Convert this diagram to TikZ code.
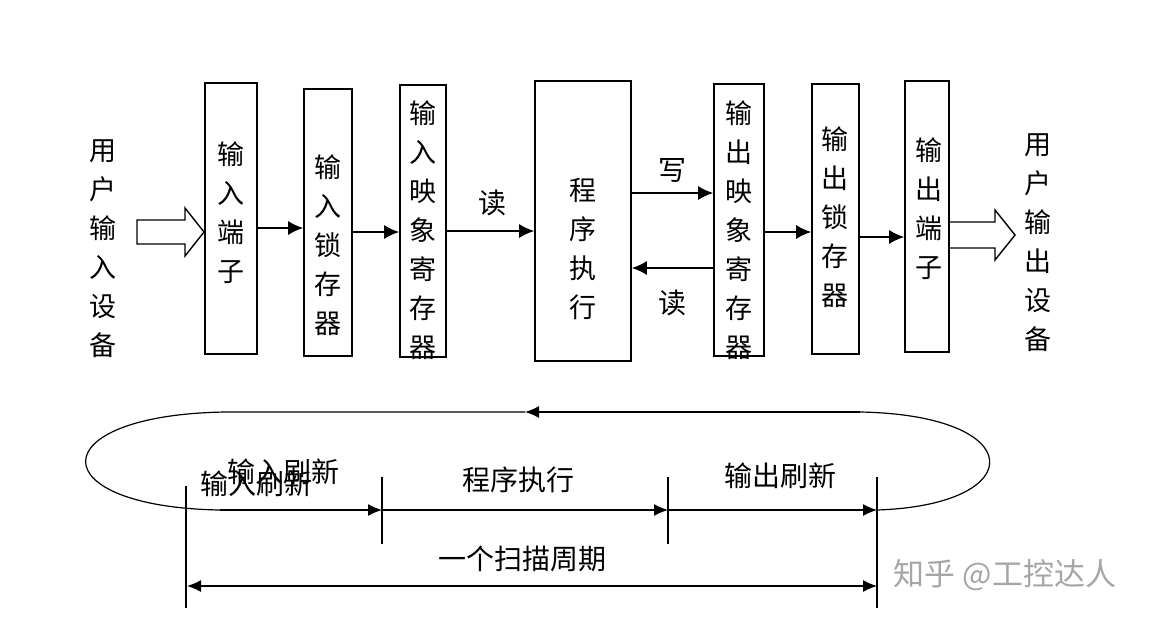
\documentclass[tikz,border=0pt]{standalone}
\usepackage{fontspec}
\newfontfamily\cjk{Noto Sans CJK SC}
\usetikzlibrary{arrows.meta}
\begin{document}
\begin{tikzpicture}[x=1pt,y=-1pt,
  box/.style={draw,line width=1.6pt,inner sep=0pt},
  vtxt/.style={align=center,inner sep=0pt,font=\cjk\fontsize{27}{39}\selectfont},
  lbl/.style={inner sep=0pt,font=\cjk\fontsize{28}{30}\selectfont},
  arr/.style={line width=1.6pt,-{Latex[length=15pt,width=14pt]}},
  ln/.style={line width=1.2pt},
  tick/.style={line width=1.2pt},
  hollow/.style={draw,line width=1.4pt,line join=miter}]
\useasboundingbox (0,0) rectangle (1157,622);
% boxes
\node[box,minimum width=52,minimum height=271] (b1) at (231,218.5) {};
\node[box,minimum width=48,minimum height=267] (b2) at (328,222.5) {};
\node[box,minimum width=46,minimum height=272] (b3) at (423,221) {};
\node[box,minimum width=96,minimum height=280] (b4) at (583,221) {};
\node[box,minimum width=50,minimum height=272] (b5) at (739,220) {};
\node[box,minimum width=47,minimum height=270] (b6) at (835.5,219) {};
\node[box,minimum width=44,minimum height=271] (b7) at (927,216.5) {};
% box texts
\node[vtxt] (t1) at (231,213) {输\\入\\端\\子};
\node[vtxt] (t2) at (328,245) {输\\入\\锁\\存\\器};
\node[vtxt] (t3) at (423,230.5) {输\\入\\映\\象\\寄\\存\\器};
\node[vtxt] (t4) at (583,248.5) {程\\序\\执\\行};
\node[vtxt] (t5) at (739,230) {输\\出\\映\\象\\寄\\存\\器};
\node[vtxt] (t6) at (835,217) {输\\出\\锁\\存\\器};
\node[vtxt] (t7) at (929,208.5) {输\\出\\端\\子};
\node[vtxt] (uin) at (103,248.5) {用\\户\\输\\入\\设\\备};
\node[vtxt] (uout) at (1038,242.5) {用\\户\\输\\出\\设\\备};
% hollow arrows
\draw[hollow] (137,220) -- (185,220) -- (185,208) -- (204,232) -- (185,256) -- (185,244) -- (137,244) -- cycle;
\draw[hollow] (949,222) -- (995,222) -- (995,210) -- (1015,235) -- (995,260) -- (995,248) -- (949,248);
% top-row connectors
\draw[arr] (b1.east |- 0,228) -- (b2.west |- 0,228);
\draw[arr] (b2.east |- 0,232) -- (b3.west |- 0,232);
\draw[arr] (b3.east |- 0,231) -- (b4.west |- 0,231);
\node[lbl] (rd1) at (492,203) {读};
\draw[arr] (b4.east |- 0,193) -- (b5.west |- 0,193);
\node[lbl] (wr) at (672,170) {写};
\draw[arr] (b5.west |- 0,268) -- (b4.east |- 0,268);
\node[lbl] (rd2) at (672,303) {读};
\draw[arr] (b5.east |- 0,232) -- (b6.west |- 0,232);
\draw[arr] (b6.east |- 0,237) -- (b7.west |- 0,237);
% bottom cycle
\coordinate (p1) at (382,510);
\coordinate (p2) at (668,510);
\coordinate (p3) at (877,510);
\coordinate (ltop) at (225,412);
\coordinate (rtop) at (860,412);
\coordinate (mtop) at (525,412);
\coordinate (lbot) at (220,510);
\draw[ln] (p3) .. controls (1030,505) and (1030,415) .. (rtop);
\draw[ln,-{Latex[length=14pt,width=12pt]}] (rtop) -- (mtop);
\draw[ln] (mtop) -- (ltop) .. controls (40,415) and (40,507) .. (lbot);
\draw[ln,-{Latex[length=14pt,width=12pt]}] (lbot) -- (p1);
\draw[ln,-{Latex[length=14pt,width=12pt]}] (p1) -- (p2);
\draw[ln,-{Latex[length=14pt,width=12pt]}] (p2) -- (p3);
% ticks
\coordinate (k1a) at (186,486); \coordinate (k1b) at (186,608);
\coordinate (k2a) at (382,477); \coordinate (k2b) at (382,544);
\coordinate (k3a) at (668,477); \coordinate (k3b) at (668,544);
\coordinate (k4a) at (877,477); \coordinate (k4b) at (877,608);
\draw[tick] (k1a) -- (k1b);
\draw[tick] (k2a) -- (k2b);
\draw[tick] (k3a) -- (k3b);
\draw[tick] (k4a) -- (k4b);
\coordinate (sa) at (187,586);
\coordinate (sb) at (877,586);
\draw[ln,{Latex[length=14pt,width=12pt]}-{Latex[length=14pt,width=12pt]}] (sa) -- (sb);
% labels
\node[lbl] (l1) at (283,472) {输入刷新};
\node[lbl] (l2) at (256,484) {输入刷新};
\node[lbl] (l3) at (518,480) {程序执行};
\node[lbl] (l4) at (780,476) {输出刷新};
\node[lbl] (l5) at (522,559) {一个扫描周期};
\node[inner sep=0pt,font=\cjk\fontsize{31}{34}\selectfont,text=black!35] (wm) at (1005,575) {知乎 @工控达人};
\end{tikzpicture}
\end{document}
